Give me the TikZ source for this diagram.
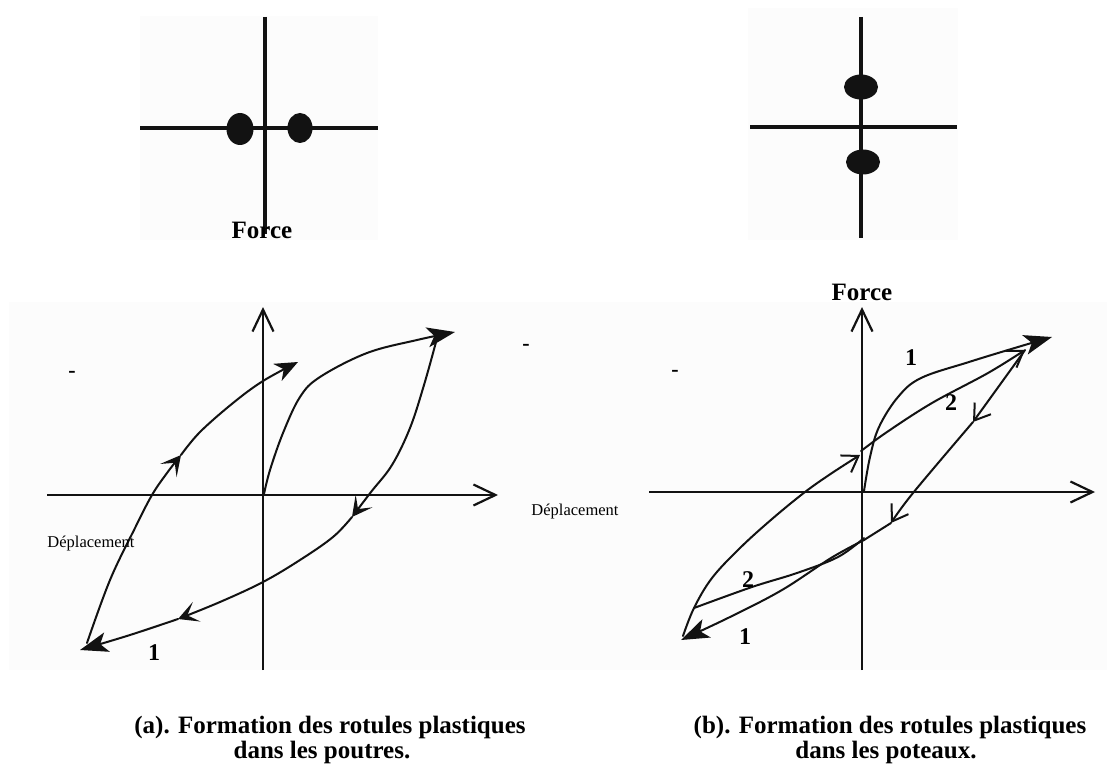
\documentclass[tikz,border=0pt]{standalone}
\usepackage{fontspec}
\setmainfont{Liberation Serif}
\usetikzlibrary{arrows.meta}
\definecolor{panelgray}{RGB}{252,252,252}
\definecolor{ink}{RGB}{18,18,18}
\begin{document}
\begin{tikzpicture}[x=1pt,y=-1pt,
  panel/.style={fill=panelgray,draw=none},
  crossline/.style={line width=3.2pt,draw=ink},
  hinge/.style={fill=ink},
  axis/.style={line width=2.2pt,draw=ink,-{Straight Barb[length=22pt,width=21pt]}},
  curve/.style={line width=2pt,draw=ink,line cap=round,line join=round},
  bigtip/.style={-{Stealth[length=28pt,width=20pt,inset=7pt]}},
  smalltip/.style={-{Stealth[length=23pt,width=19pt,inset=7pt]}},
  midtip/.style={-{Stealth[length=20pt,width=21pt,inset=10pt]}},
  opentip/.style={-{Straight Barb[length=15pt,width=20pt]}},
  forcelbl/.style={font=\fontsize{25}{28}\selectfont\bfseries,inner sep=0pt},
  deplbl/.style={font=\fontsize{16.5}{18}\selectfont,inner sep=0pt},
  numlbl/.style={font=\fontsize{24}{26}\selectfont\bfseries,inner sep=0pt},
  dashlbl/.style={font=\fontsize{22}{24}\selectfont\bfseries,inner sep=0pt},
  caplbl/.style={font=\fontsize{25}{27}\selectfont\bfseries,align=center,inner sep=0pt}
]
\useasboundingbox (0,0) rectangle (1107,767);
\fill[white] (0,0) rectangle (1107,767);

% panels
\fill[panel] (140,16) rectangle (378,240);
\fill[panel] (748,8) rectangle (958,240);
\fill[panel] (9,302) rectangle (1107,670);

% ---- top left cross: hinges in beams
\draw[crossline] (265,17) -- (265,234);
\draw[crossline] (140,128) -- (378,128);
\fill[hinge] (240,129) ellipse [x radius=13.5, y radius=16];
\fill[hinge] (300,128) ellipse [x radius=12.5, y radius=15];
\node[forcelbl] (forceA) at (262,230) {Force};

% ---- top right cross: hinges in columns
\draw[crossline] (861,17) -- (861,238);
\draw[crossline] (750,127) -- (957,127);
\fill[hinge] (861,87) ellipse [x radius=17, y radius=12.5];
\fill[hinge] (863,162) ellipse [x radius=17, y radius=12.5];

% ---- left graph
\draw[axis] (47,495) -- (498,495);
\draw[axis] (263,670) -- (263,307);
% first loading
\draw[curve,bigtip] plot[smooth,tension=0.6] coordinates
  {(264,494) (270,470) (283,433) (300,397) (320,377) (367,353) (417,340) (455,332)};
% unloading / reverse loading
\draw[curve,midtip] plot[smooth,tension=0.6] coordinates
  {(436,342) (424,385) (410,428) (392,465) (371,492) (352,517)};
\draw[curve,midtip] plot[smooth,tension=0.6] coordinates
  {(352,517) (333,537) (300,560) (263,582) (220,602) (178,619)};
\draw[curve,bigtip] plot[smooth,tension=0.6] coordinates
  {(178,619) (130,635) (80,650)};
% reloading
\draw[curve,midtip] plot[smooth,tension=0.6] coordinates
  {(87,643) (110,580) (135,528) (152,495) (167,473) (181,455)};
\draw[curve,smalltip] plot[smooth,tension=0.6] coordinates
  {(181,455) (200,432) (233,403) (263,381) (298,362)};
\node[deplbl] (depA) at (91,544) {Déplacement};
\node[dashlbl] (dashA) at (72,374) {-};
\node[numlbl] (oneA) at (154,653) {1};

% ---- right graph
\node[forcelbl] (forceB) at (862,292) {Force};
\draw[axis] (649,492) -- (1095,492);
\draw[axis] (862,670) -- (862,307);
% loop 1, upper
\draw[curve,bigtip] plot[smooth,tension=0.6] coordinates
  {(864,491) (870,457) (879,427) (898,397) (921,378) (969,362) (1018,347) (1052,337)};
% loop 2, upper
\draw[curve,opentip] plot[smooth,tension=0.6] coordinates
  {(861,451) (887,432) (932,403) (988,373) (1025,350)};
% unloading
\draw[curve,opentip] (1025,350) -- (973,422);
\draw[curve,opentip] plot[smooth,tension=0.6] coordinates
  {(973,422) (913,493) (891,523)};
\draw[curve] (891,523) -- (864,540);
% loop 1, lower
\draw[curve,bigtip] plot[smooth,tension=0.6] coordinates
  {(864,540) (831,558) (782,590) (730,617) (681,640)};
% loop 2, lower
\draw[curve] plot[smooth,tension=0.6] coordinates
  {(864,538) (838,557) (797,573) (752,587) (694,608)};
% reloading
\draw[curve,opentip] plot[smooth,tension=0.6] coordinates
  {(683,636) (694,608) (712,578) (740,548) (772,519) (805,492) (832,473) (860,455)};
\node[deplbl] (depB) at (575,512) {Déplacement};
\node[dashlbl] (dashB1) at (526,347) {-};
\node[dashlbl] (dashB2) at (675,373) {-};
\node[numlbl] (oneB1) at (911,358) {1};
\node[numlbl] (twoB1) at (951,403) {2};
\node[numlbl] (twoB2) at (748,580) {2};
\node[numlbl] (oneB2) at (745,637) {1};

% ---- captions
\node[caplbl,anchor=base] (capA) at (330,733) {(a). Formation des rotules plastiques};
\node[caplbl,anchor=base] (capA2) at (322,758) {dans les poutres.};
\node[caplbl,anchor=base] (capB) at (890,733) {(b). Formation des rotules plastiques};
\node[caplbl,anchor=base] (capB2) at (886,758) {dans les poteaux.};
\end{tikzpicture}
\end{document}
